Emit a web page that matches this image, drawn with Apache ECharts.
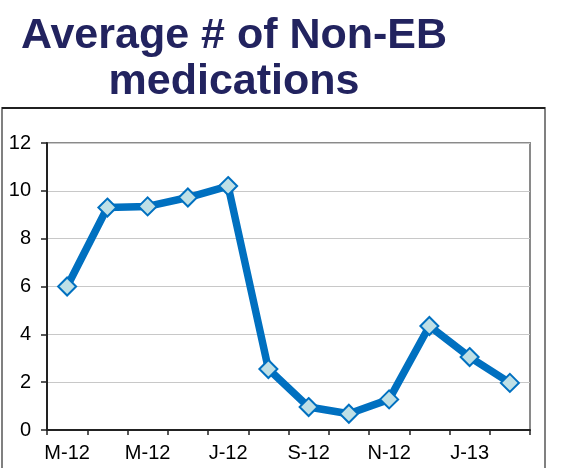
<!DOCTYPE html>
<html lang="en">
<head>
    <meta charset="UTF-8">
    <title>Average # of Non-EB medications</title>
    <style>
        html, body { margin: 0; padding: 0; background: #fff; }
        #main { width: 577px; height: 468px; }
    </style>
</head>
<body>
    <div id="main"></div>
<script type="text/javascript" src="https://cdn.jsdelivr.net/npm/echarts@6/dist/echarts.min.js"></script>
<script type="text/javascript">
    // months Mar-12 .. Feb-13, only every other one is labelled on the chart
    var months = ['M-12', 'A-12', 'M-12', 'J-12', 'J-12', 'A-12', 'S-12', 'O-12', 'N-12', 'D-12', 'J-13', 'F-13'];
    var avgMeds = [6.0, 9.3, 9.35, 9.72, 10.2, 2.55, 0.96, 0.68, 1.28, 4.35, 3.05, 1.97];
    var yTicks = [0, 2, 4, 6, 8, 10, 12];

    var myChart = echarts.init(document.getElementById('main'));

    var option = {
        animation: false,
        backgroundColor: '#fff',
        textStyle: { fontFamily: 'Liberation Sans, Arial, sans-serif' },
        title: {
            text: 'Average # of Non-EB\nmedications',
            left: 229,
            top: 8,
            textAlign: 'center',
            textStyle: {
                fontSize: 43,
                fontWeight: 'bold',
                color: '#22235f',
                lineHeight: 46,
                fontFamily: 'Liberation Sans, Arial, sans-serif'
            }
        },
        graphic: [
            {
                type: 'rect',
                shape: { x: 2, y: 108, width: 543, height: 380 },
                style: { fill: 'none', stroke: '#808080', lineWidth: 2 },
                z: -1
            },
            {
                type: 'line',
                shape: { x1: 2, y1: 108, x2: 545, y2: 108 },
                style: { stroke: '#000', lineWidth: 1.5 }
            }
        ],
        grid: {
            left: 47,
            right: 47,
            top: 143,
            bottom: 38,
            show: true,
            borderColor: '#8a8a8a',
            borderWidth: 2
        },
        xAxis: {
            type: 'category',
            data: months,
            boundaryGap: true,
            axisLine: { lineStyle: { color: '#222', width: 2 } },
            axisTick: { show: true, length: 5, alignWithLabel: false, interval: 0, lineStyle: { color: '#222', width: 1.5 } },
            axisLabel: {
                interval: 1,
                margin: 13,
                fontSize: 20,
                color: '#000',
                fontFamily: 'Liberation Sans, Arial, sans-serif'
            },
            splitLine: { show: false }
        },
        yAxis: {
            type: 'value',
            min: yTicks[0],
            max: yTicks[yTicks.length - 1],
            interval: 2,
            axisLine: { show: true, lineStyle: { color: '#222', width: 2 } },
            axisTick: { show: true, length: 6, inside: false, lineStyle: { color: '#222', width: 1.5 } },
            axisLabel: {
                margin: 16,
                fontSize: 20,
                color: '#000',
                fontFamily: 'Liberation Sans, Arial, sans-serif'
            },
            splitLine: { show: true, lineStyle: { color: '#c8c8c8', width: 1 } }
        },
        series: [
            {
                name: 'Average # of Non-EB medications',
                type: 'line',
                data: avgMeds,
                symbol: 'diamond',
                symbolSize: 18,
                lineStyle: { color: '#0070c0', width: 7.5 },
                itemStyle: { color: '#bfe0e6', borderColor: '#0070c0', borderWidth: 2 },
                z: 3
            }
        ]
    };
    myChart.setOption(option);
</script>
</body>
</html>
